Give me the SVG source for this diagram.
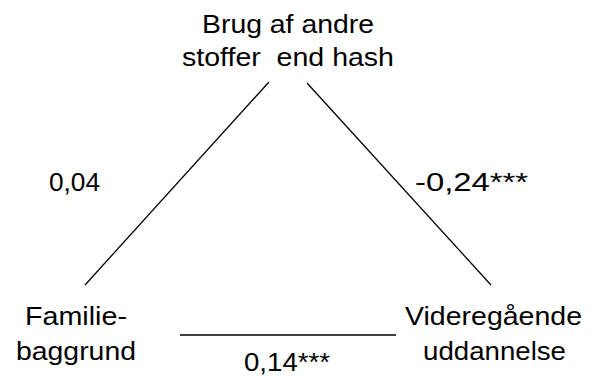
<svg xmlns="http://www.w3.org/2000/svg" width="597" height="376" viewBox="0 0 597 376">
<style>
text{font-family:"Liberation Sans",Arial,sans-serif;font-size:26.5px;fill:#000}
.c line{stroke:#000;stroke-width:1.3}
</style>
<rect width="597" height="376" fill="#fff"/>
<g class="c" id="connectors">
<line x1="269" y1="82" x2="85" y2="285"/>
<line x1="307" y1="83" x2="491" y2="285"/>
<line x1="180" y1="335" x2="396" y2="335"/>
</g>
<g id="node-top">
<text x="202" y="33" textLength="172" lengthAdjust="spacingAndGlyphs">Brug af andre</text>
<text x="182" y="66" textLength="212" lengthAdjust="spacingAndGlyphs">stoffer&#160; end hash</text>
</g>
<g id="node-left">
<text x="25" y="325" textLength="102" lengthAdjust="spacingAndGlyphs">Familie-</text>
<text x="16" y="360" textLength="120" lengthAdjust="spacingAndGlyphs">baggrund</text>
</g>
<g id="node-right">
<text x="405" y="325" textLength="177" lengthAdjust="spacingAndGlyphs">Videregående</text>
<text x="423" y="360" textLength="143" lengthAdjust="spacingAndGlyphs">uddannelse</text>
</g>
<g id="labels">
<text x="49" y="191" textLength="51" lengthAdjust="spacingAndGlyphs">0,04</text>
<text x="415" y="191" textLength="113" lengthAdjust="spacingAndGlyphs">-0,24***</text>
<text x="244" y="371" textLength="86" lengthAdjust="spacingAndGlyphs">0,14***</text>
</g>
</svg>
